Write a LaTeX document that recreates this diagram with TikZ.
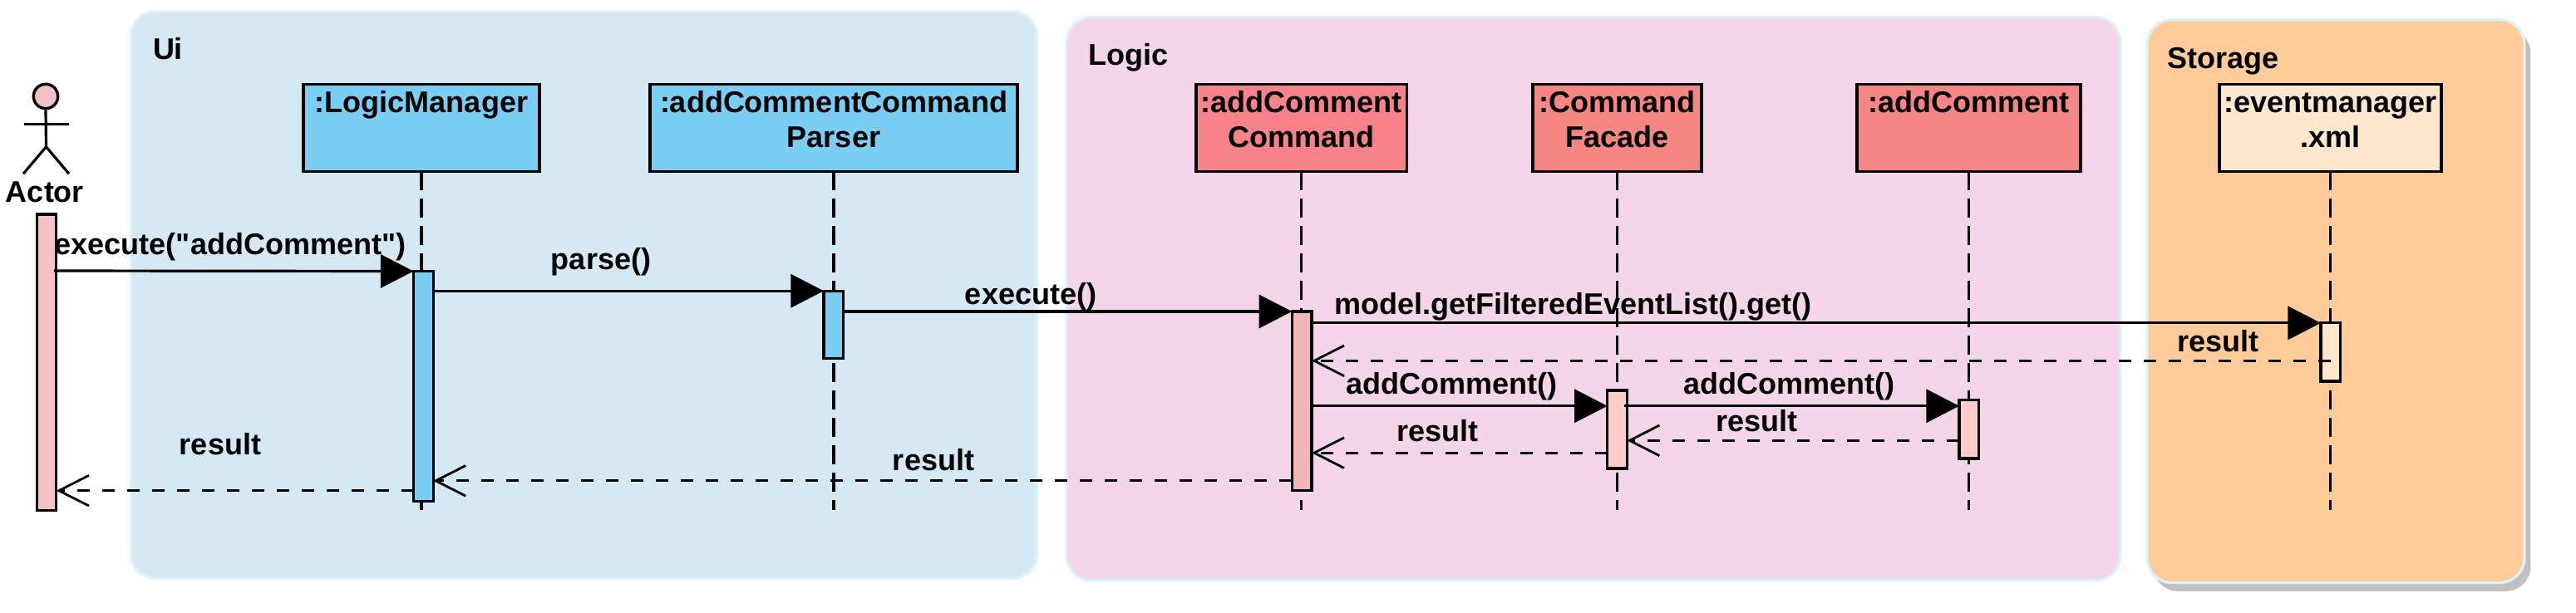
\documentclass[tikz,border=0pt]{standalone}
\usepackage{fontspec}
\newfontfamily\diagramfont{Liberation Sans}
\usetikzlibrary{arrows.meta,shapes.geometric}
\definecolor{uipanel}{HTML}{D5E9F5}
\definecolor{logicpanel}{HTML}{F4D5E9}
\definecolor{storepanel}{HTML}{FFCB99}
\definecolor{panelline}{HTML}{DAF3FA}
\definecolor{shadowgray}{HTML}{C0C0C0}
\definecolor{blueobj}{HTML}{7ACEF4}
\definecolor{redA}{HTML}{F7828A}
\definecolor{redB}{HTML}{F68682}
\definecolor{redC}{HTML}{F68686}
\definecolor{creamobj}{HTML}{FFE6CC}
\definecolor{actorfill}{HTML}{F4C2C2}
\definecolor{actA}{HTML}{F4B5BA}
\definecolor{actB}{HTML}{FFCCCC}
\tikzset{
  x=0.5pt,y=-0.4947pt,
  txt/.style={font=\diagramfont\fontsize{18pt}{21pt}\selectfont\bfseries,inner sep=0pt,outer sep=0pt},
  lbl/.style={txt,anchor=base},
  plbl/.style={txt,anchor=base west},
  panel/.style={draw=panelline,line width=1.6pt,rounded corners=15pt,anchor=north west,inner sep=0pt,outer sep=0pt},
  obj/.style={draw=black,line width=1.9pt,anchor=north west,inner sep=0pt,outer sep=0pt,txt},
  act/.style={draw=black,line width=1.6pt,anchor=north west,inner sep=0pt,outer sep=0pt,minimum width=11.8pt},
  life/.style={draw=black,line width=1.6pt,dash pattern=on 11.5pt off 5pt},
  call/.style={draw=black,line width=1.6pt,-{Triangle[length=19.8pt,width=20pt]}},
  ret/.style={draw=black,line width=1.6pt,dash pattern=on 7.5pt off 7.5pt,-{Straight Barb[length=18pt,width=18.3pt,line width=1.4pt]}},
  stick/.style={draw=black,line width=1.6pt},
}
\newcommand{\objtext}[2]{\parbox[c][52.5pt][t]{#1}{\centering\vspace{3.8pt}\rule{0pt}{13pt}#2\par}}
\begin{document}
\begin{tikzpicture}
\useasboundingbox (0,0) rectangle (3099,744.9);
% panels
\node[panel,fill=uipanel,minimum width=545pt,minimum height=341.3pt] (ui) at (157.5,14) {};
\node[panel,fill=logicpanel,minimum width=634pt,minimum height=338.9pt] (logic) at (1283,21) {};
\node[anchor=north west,fill=shadowgray,rounded corners=15pt,inner sep=0pt,minimum width=227pt,minimum height=338.9pt] (storeshadow) at (2590,34) {};
\node[panel,fill=storepanel,minimum width=227pt,minimum height=338.9pt] (storage) at (2583,24) {};
\node[plbl] (uil) at (184,72) {Ui};
\node[plbl] (logicl) at (1309,79) {Logic};
\node[plbl] (storagel) at (2607,83) {Storage};
% object boxes
\node[obj,fill=blueobj] (lm) at (365,102.5) {\objtext{142pt}{:LogicManager}};
\node[obj,fill=blueobj] (parser) at (782,102.5) {\objtext{221pt}{:addCommentCommand\\Parser}};
\node[obj,fill=redA] (cmd) at (1439,102.5) {\objtext{126.75pt}{:addComment\\Command}};
\node[obj,fill=redB] (facade) at (1844,102.5) {\objtext{101.5pt}{:Command\\Facade}};
\node[obj,fill=redC] (comment) at (2234,102.5) {\objtext{134.5pt}{:addComment}};
\node[obj,fill=creamobj] (xml) at (2670,102.5) {\objtext{133.5pt}{:eventmanager\\.xml}};
% lifelines
\draw[life] (lm.south) -- (lm.south |- 0,621);
\draw[life] (parser.south) -- (parser.south |- 0,621);
\draw[life] (cmd.south) -- (cmd.south |- 0,621);
\draw[life] (facade.south) -- (facade.south |- 0,621);
\draw[life] (comment.south) -- (comment.south |- 0,621);
\draw[life] (xml.south) -- (xml.south |- 0,621);
% actor
\node[ellipse,draw=black,line width=1.7pt,fill=actorfill,minimum width=14.7pt,minimum height=14.7pt,inner sep=0pt] (head) at (55,117.2) {};
\coordinate (hip) at (55.5,178.6);
\draw[stick] (head.south) -- (hip);
\draw[stick] (28.5,151) coordinate (arml) -- (82.5,151) coordinate (armr);
\draw[stick] (28,211.5) coordinate (legl) -- (hip) -- (83,211.5) coordinate (legr);
\node[lbl] (actor) at (54,246) {Actor};
% activations
\node[act,fill=actorfill,minimum height=178.2pt] (a0) at (44.2,260.8) {};
\node[act,fill=blueobj,minimum height=138.5pt] (a1) at (497.5,330) {};
\node[act,fill=blueobj,minimum height=40.6pt] (a2) at (991,354) {};
\node[act,fill=actA,minimum height=107.8pt] (a3) at (1554.3,379) {};
\node[act,fill=actB,minimum height=47pt] (a4) at (1933.7,475) {};
\node[act,fill=actB,minimum height=35.1pt] (a5) at (2357,487) {};
\node[act,fill=creamobj,minimum height=35.1pt] (a6) at (2792,393) {};
% labels
\node[lbl] (m1) at (277,310) {execute("addComment")};
\node[lbl] (m2) at (723,328) {parse()};
\node[lbl] (m3) at (1240,370.5) {execute()};
\node[lbl] (m4) at (1892,382.5) {model.getFilteredEventList().get()};
\node[lbl] (r1) at (2668,428.5) {result};
\node[lbl] (m5) at (1746,480) {addComment()};
\node[lbl] (m6) at (2152,480) {addComment()};
\node[lbl] (r2) at (2113,525) {result};
\node[lbl] (r3) at (1729,537) {result};
\node[lbl] (r4) at (1123,573) {result};
\node[lbl] (r5) at (265,553) {result};
% messages
\draw[call] ([xshift=-1.5pt]a0.east |- 0,329.5) -- (a1.north west);
\draw[call] (a1.east |- 0,354) -- (a2.north west);
\draw[call] (a2.east |- 0,379) -- (a3.north west);
\draw[call] (a3.east |- 0,393) -- (a6.north west);
\draw[ret] (a6.center |- 0,439) -- (a3.east |- 0,439);
\draw[call] (a3.east |- 0,494) -- (a4.west |- 0,494);
\draw[call] ([xshift=-1.5pt]a4.east |- 0,494) -- (a5.west |- 0,494);
\draw[ret] (a5.west |- 0,536) -- (a4.east |- 0,536);
\draw[ret] (a4.west |- 0,551) -- (a3.east |- 0,551);
\draw[ret] (a3.west |- 0,585) -- (a1.east |- 0,585);
\draw[ret] (a1.west |- 0,597) -- (a0.east |- 0,597);
\end{tikzpicture}
\end{document}
